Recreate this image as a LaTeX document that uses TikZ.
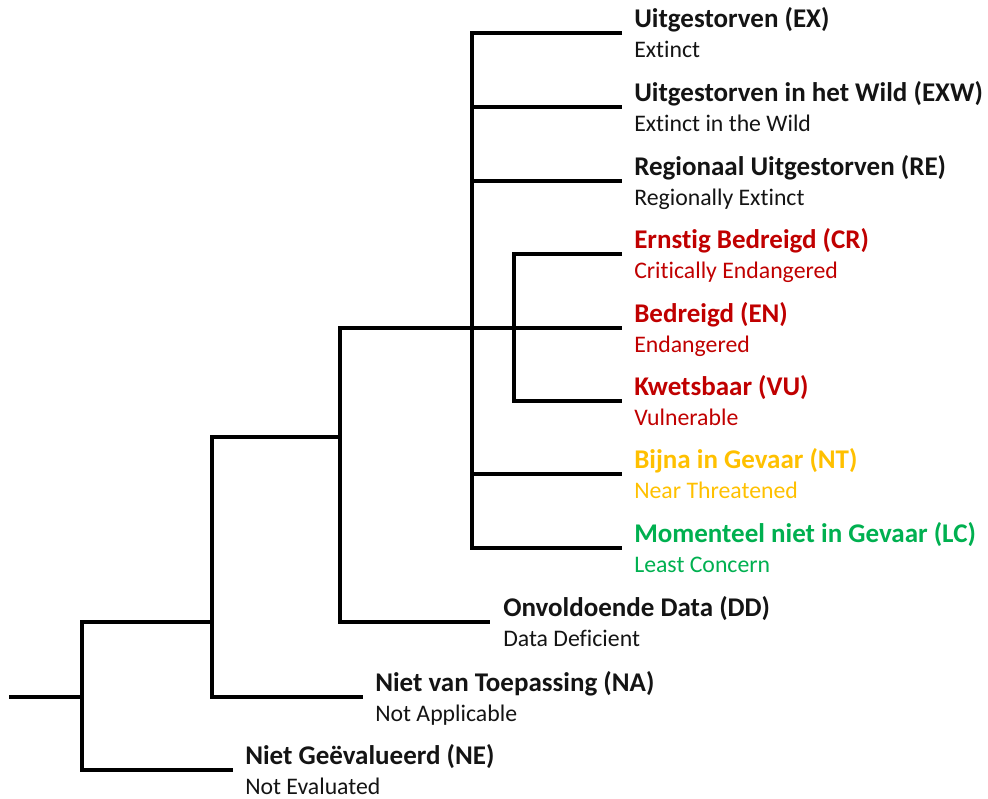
\documentclass[tikz,border=0pt]{standalone}
\usepackage{fontspec}
\setmainfont{Carlito}[Ligatures=NoCommon]
\definecolor{redList}{RGB}{192,0,0}
\definecolor{nearList}{RGB}{255,192,0}
\definecolor{leastList}{RGB}{0,176,80}
\definecolor{darkText}{RGB}{20,20,20}

\begin{document}
\begin{tikzpicture}[x=0.025cm, y=-0.025cm,
	branch/.style={line width=2.6pt},
	catTitle/.style={anchor=base west, inner sep=0pt, font=\fontsize{19.2}{22}\selectfont\bfseries},
	catSub/.style={anchor=base west, inner sep=0pt, font=\fontsize{16.9}{20}\selectfont}]
	
	\useasboundingbox (0,0) rectangle (988,798);
	
	%Junctions
	\coordinate (root) at (9,697);
	\coordinate (allSplit) at (82,697);
	\coordinate (evalSplit) at (212,622);
	\coordinate (dataSplit) at (340,437);
	\coordinate (threatSplit) at (472,328);
	\coordinate (crSplit) at (514,328);
	
	%Leaf ends
	\coordinate (exEnd) at (622,33);
	\coordinate (exwEnd) at (622,107);
	\coordinate (reEnd) at (622,181);
	\coordinate (crEnd) at (622,254);
	\coordinate (enEnd) at (622,328);
	\coordinate (vuEnd) at (622,401);
	\coordinate (ntEnd) at (622,474);
	\coordinate (lcEnd) at (622,548);
	\coordinate (ddEnd) at (490,622);
	\coordinate (naEnd) at (363,697);
	\coordinate (neEnd) at (233,770);
	
	%Labels
	\node (exTitle) at (634,27) [catTitle, text=darkText] {Uitgestorven (EX)};
	\node (exSub) at (634,57) [catSub, text=darkText] {Extinct};
	\node (exwTitle) at (634,101) [catTitle, text=darkText] {Uitgestorven in het Wild (EXW)};
	\node (exwSub) at (634,131) [catSub, text=darkText] {Extinct in the Wild};
	\node (reTitle) at (634,175) [catTitle, text=darkText] {Regionaal Uitgestorven (RE)};
	\node (reSub) at (634,205) [catSub, text=darkText] {Regionally Extinct};
	\node (crTitle) at (634,248) [catTitle, text=redList] {Ernstig Bedreigd (CR)};
	\node (crSub) at (634,278) [catSub, text=redList] {Critically Endangered};
	\node (enTitle) at (634,322) [catTitle, text=redList] {Bedreigd (EN)};
	\node (enSub) at (634,352) [catSub, text=redList] {Endangered};
	\node (vuTitle) at (634,395) [catTitle, text=redList] {Kwetsbaar (VU)};
	\node (vuSub) at (634,425) [catSub, text=redList] {Vulnerable};
	\node (ntTitle) at (634,468) [catTitle, text=nearList] {Bijna in Gevaar (NT)};
	\node (ntSub) at (634,498) [catSub, text=nearList] {Near Threatened};
	\node (lcTitle) at (634,542) [catTitle, text=leastList] {Momenteel niet in Gevaar (LC)};
	\node (lcSub) at (634,572) [catSub, text=leastList] {Least Concern};
	\node (ddTitle) at (503,616) [catTitle, text=darkText] {Onvoldoende Data (DD)};
	\node (ddSub) at (503,646) [catSub, text=darkText] {Data Deficient};
	\node (naTitle) at (375,691) [catTitle, text=darkText] {Niet van Toepassing (NA)};
	\node (naSub) at (375,721) [catSub, text=darkText] {Not Applicable};
	\node (neTitle) at (245,764) [catTitle, text=darkText] {Niet Geëvalueerd (NE)};
	\node (neSub) at (245,794) [catSub, text=darkText] {Not Evaluated};
	
	%Links
	\draw [branch] (root) -- (allSplit);
	\draw [branch] (evalSplit) -| (allSplit) |- (neEnd);
	\draw [branch] (dataSplit) -| (evalSplit) |- (naEnd);
	\draw [branch] (threatSplit) -| (dataSplit) |- (ddEnd);
	\draw [branch] (exEnd) -| (threatSplit) |- (lcEnd);
	\draw [branch] (threatSplit |- exwEnd) -- (exwEnd);
	\draw [branch] (threatSplit |- reEnd) -- (reEnd);
	\draw [branch] (threatSplit) -- (enEnd);
	\draw [branch] (threatSplit |- ntEnd) -- (ntEnd);
	\draw [branch] (crEnd) -| (crSplit) |- (vuEnd);
	
\end{tikzpicture}
\end{document}
